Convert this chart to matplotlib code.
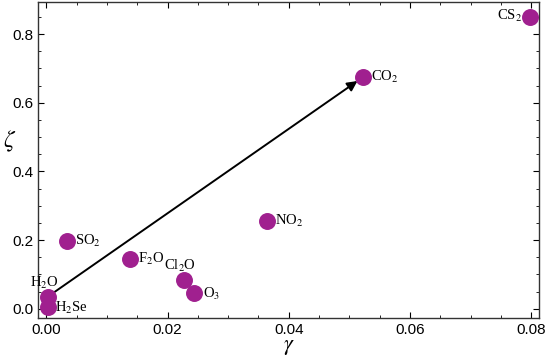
import matplotlib.pyplot as plt
from matplotlib.ticker import MultipleLocator

plt.rcParams['mathtext.fontset'] = 'stix'
plt.rcParams['font.family'] = 'Liberation Sans'

# 分子名称和坐标
names = ['CS$_2$', 'CO$_2$', 'NO$_2$', 'SO$_2$', 'F$_2$O', 'Cl$_2$O', 'O$_3$', 'H$_2$O', 'H$_2$Se']
gamma = [0.0798, 0.0522, 0.0364, 0.0034, 0.0138, 0.0228, 0.0244, 0.0003, 0.0003]
zeta = [0.849, 0.675, 0.256, 0.198, 0.145, 0.084, 0.047, 0.035, 0.006]
# 标签偏移 (points)
offsets = [(-6, 1), (6, 0), (6, 0), (6, 0), (6, 0), (-3, 10), (6, -1), (-3, 10), (5, -1)]
aligns = ['right', 'left', 'left', 'left', 'left', 'center', 'left', 'center', 'left']

arrow_start = (0.0008, 0.042)
arrow_end = (0.0517, 0.668)

fig = plt.figure(figsize=(5.48, 3.57), dpi=100)
ax = fig.add_axes([0.07, 0.11, 0.914, 0.884])

ax.annotate('', xy=arrow_end, xytext=arrow_start,
            arrowprops=dict(arrowstyle='-|>', color='black', lw=1.4, mutation_scale=15))
ax.scatter(gamma, zeta, s=125, color='#a0208f', zorder=3)
for n, x, y, o, a in zip(names, gamma, zeta, offsets, aligns):
    ax.annotate(n, (x, y), xytext=o, textcoords='offset points', ha=a, va='center',
                fontsize=10.5, family='Liberation Serif')

ax.set_xlim(-0.0013, 0.0813)
ax.set_ylim(-0.026, 0.893)
ax.xaxis.set_major_locator(MultipleLocator(0.02))
ax.xaxis.set_minor_locator(MultipleLocator(0.005))
ax.yaxis.set_major_locator(MultipleLocator(0.2))
ax.yaxis.set_minor_locator(MultipleLocator(0.05))
ax.xaxis.set_major_formatter(plt.FuncFormatter(lambda v, p: '%.2f' % v))
ax.yaxis.set_major_formatter(plt.FuncFormatter(lambda v, p: '%.1f' % v))
ax.tick_params(which='both', direction='in', top=True, right=True, labelsize=11)
ax.tick_params(which='major', length=4)
ax.tick_params(which='minor', length=2)
for s in ax.spines.values():
    s.set_linewidth(1.0)
    s.set_color('#333333')

ax.set_xlabel('$\\gamma$', fontsize=16, va='center')
ax.xaxis.set_label_coords(0.5, -0.092)
ax.set_ylabel('$\\zeta$', fontsize=17, rotation=0)
ax.yaxis.set_label_coords(-0.058, 0.52)

plt.savefig('out.png')
